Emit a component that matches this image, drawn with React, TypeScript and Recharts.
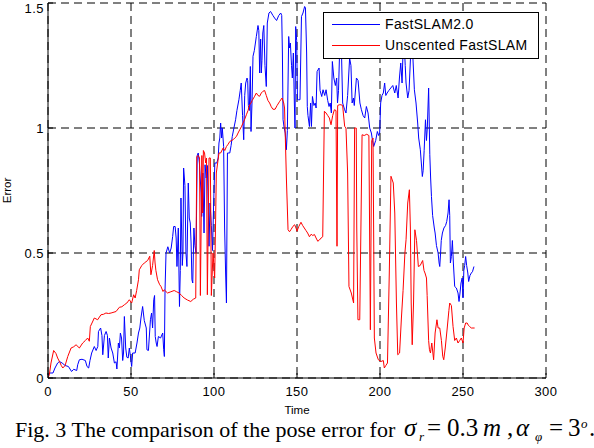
import {
  CartesianGrid,
  Label,
  Line,
  LineChart,
  XAxis,
  YAxis,
} from "recharts";

// FastSLAM2.0 (blue) — time and pose error
const fastTime = [
  0, 1, 3, 4.2, 5.8, 6.9, 8.5, 10.3, 12.3, 14.2, 15.5, 17.3, 17.9, 18.9, 20.5,
  22.5, 23.5, 24.5, 25.3, 26.3, 27.9, 29, 30, 30.4, 31.7, 32.5, 33, 34, 35,
  35.8, 36.3, 37, 38, 39, 40, 41, 41.5, 42.4, 43, 43.6, 44.3, 45, 45.5, 46,
  46.8, 47.5, 48.3, 49, 49.6, 50.4, 51, 52.5, 53.6, 54.5, 55.3, 56, 57, 58,
  59.2, 59.6, 60.5, 61.7, 62.4, 63, 63.7, 64.2, 64.6, 65.2, 65.7, 66.5, 67.8,
  69.1, 69.7, 70.1, 70.5, 71.1, 72.2, 73.3, 74.2, 75.1, 75.7, 76.6, 77.2, 77.7,
  78.5, 79.2, 79.7, 80.1, 80.9, 81.3, 81.7, 82.5, 83.1, 83.7, 84.5, 85.1, 85.7,
  86.2, 86.7, 87.2, 87.9, 88.5, 89.2, 89.9, 90.5, 91.2, 92.2, 92.6, 93.3, 94,
  94.6, 95.3, 96, 97, 97.6, 98.4, 99.1, 99.8, 100.5, 101.7, 102.5, 103, 103.5,
  104, 104.6, 105, 105.8, 106.4, 107, 107.5, 108.1, 109, 109.5, 110.3, 111,
  112, 113, 113.8, 115, 115.8, 116.4, 117.2, 117.9, 118.5, 119.1, 119.9, 120.3,
  120.7, 121.3, 121.9, 122.3, 122.9, 123.5, 124.3, 125.5, 126.5, 127, 127.5,
  128.1, 128.5, 128.9, 129.4, 130, 130.7, 131.5, 132.1, 133.1, 134.1, 135.5,
  136.5, 137.7, 139, 140.2, 140.8, 141.2, 141.6, 142.3, 142.9, 143.6, 144.2,
  145, 145.5, 146, 146.7, 147.2, 147.8, 148.4, 148.8, 149.2, 149.8, 150.3, 151,
  151.8, 152.7, 153.6, 154.6, 155.1, 155.8, 156.2, 156.6, 157.5, 158.2, 158.7,
  159.3, 160.2, 161, 161.5, 162.1, 163.3, 163.9, 164.9, 165.7, 166.7, 167.5,
  168.5, 169.3, 170, 170.7, 171.3, 172.2, 173.1, 173.9, 174.4, 175, 175.7,
  176.7, 177.5, 178.7, 179.5, 180.5, 181.7, 182.5, 183.2, 184, 184.5, 185.8,
  186.8, 187.9, 188.8, 189.8, 190.8, 191.8, 192.8, 193.8, 194.8, 195.5, 196.2,
  197.4, 198.4, 199.2, 199.8, 200.4, 201.2, 202, 202.8, 203.5, 204.3, 205.3,
  206.5, 207.7, 208.9, 209.8, 210.9, 211.7, 212.5, 213.3, 213.9, 214.5, 215.2,
  215.7, 216.7, 217.5, 218.5, 219.7, 220.7, 221.7, 222.7, 223.3, 224.3, 224.9,
  225.5, 226, 226.6, 227.4, 228, 228.5, 229.3, 230, 230.5, 231, 231.7, 232.7,
  233.2, 234, 235, 235.6, 236, 236.5, 236.9, 237.6, 238.5, 239.5, 240.2, 241,
  241.6, 242, 242.4, 243, 243.6, 244.2, 245, 246, 247, 247.6, 248.2, 248.8,
  249.5, 250, 250.5, 251, 251.6, 252.2, 252.9, 253.4, 254.2, 255, 255.7, 256.6,
];
const fastError = [
  0.01, 0.02, 0.02, 0.04, 0.06, 0.066, 0.06, 0.05, 0.046, 0.026, 0.035, 0.03,
  0.053, 0.073, 0.075, 0.07, 0.046, 0.04, 0.07, 0.1, 0.126, 0.11, 0.126, 0.186,
  0.2, 0.17, 0.093, 0.17, 0.186, 0.17, 0.08, 0.16, 0.12, 0.1, 0.06, 0.065,
  0.036, 0.14, 0.12, 0.18, 0.16, 0.07, 0.1, 0.246, 0.12, 0.083, 0.08, 0.12,
  0.09, 0.046, 0.1, 0.1, 0.14, 0.18, 0.2, 0.24, 0.286, 0.23, 0.2, 0.113, 0.11,
  0.233, 0.26, 0.2, 0.313, 0.33, 0.166, 0.14, 0.126, 0.166, 0.16, 0.18, 0.113,
  0.086, 0.35, 0.5, 0.525, 0.5, 0.52, 0.566, 0.606, 0.606, 0.56, 0.446, 0.6,
  0.286, 0.43, 0.72, 0.45, 0.5, 0.84, 0.77, 0.5, 0.446, 0.78, 0.64, 0.62, 0.54,
  0.393, 0.38, 0.6, 0.53, 0.5, 0.89, 0.9, 0.86, 0.74, 0.646, 0.82, 0.58, 0.853,
  0.8, 0.85, 0.527, 0.7, 0.61, 0.51, 0.7, 0.86, 0.86, 0.88, 0.94, 0.96, 1.02,
  0.96, 1.0, 0.926, 0.6, 0.42, 0.3, 0.9, 0.9, 0.9, 0.93, 0.966, 1.0, 1.033,
  1.07, 1.113, 1.15, 1.18, 1.05, 0.953, 1.13, 1.18, 1.2, 1.19, 1.09, 1.07,
  1.246, 0.986, 1.1, 1.287, 1.31, 1.366, 1.41, 1.39, 1.22, 1.356, 1.22, 1.27,
  1.38, 1.41, 1.25, 1.166, 1.42, 1.46, 1.466, 1.45, 1.44, 1.43, 1.45, 1.46,
  1.45, 1.3, 1.033, 1.0, 0.98, 0.913, 0.99, 1.366, 1.32, 1.34, 1.25, 1.2, 1.3,
  1.1, 1.0, 1.406, 1.35, 1.113, 1.113, 1.113, 1.446, 1.46, 1.486, 1.48, 1.3,
  1.086, 1.05, 1.006, 1.1, 1.006, 1.126, 1.09, 1.1, 1.08, 1.226, 1.24, 1.15,
  1.126, 1.153, 1.13, 1.153, 1.11, 1.086, 1.1, 1.06, 1.266, 1.2, 1.17, 1.2,
  1.1, 1.15, 1.313, 1.33, 1.1, 1.073, 1.06, 1.13, 1.28, 1.25, 1.1, 1.12, 1.09,
  1.2, 1.19, 1.1, 1.073, 1.05, 1.04, 1.086, 1.06, 1.0, 0.98, 0.95, 0.926, 0.95,
  0.986, 0.97, 0.98, 1.1, 1.13, 1.14, 1.18, 1.13, 1.14, 1.15, 1.16, 1.17, 1.14,
  1.17, 1.12, 1.2, 1.26, 1.18, 1.31, 1.35, 1.25, 1.18, 1.12, 1.15, 1.3, 1.3,
  1.153, 1.1, 1.02, 0.96, 0.913, 0.86, 0.806, 0.83, 0.91, 1.033, 0.95, 1.0,
  1.16, 0.893, 0.8, 0.726, 0.65, 0.6, 0.58, 0.53, 0.5, 0.46, 0.446, 0.5, 0.55,
  0.58, 0.6, 0.61, 0.626, 0.66, 0.713, 0.65, 0.46, 0.486, 0.55, 0.46, 0.366,
  0.36, 0.34, 0.306, 0.34, 0.38, 0.4, 0.32, 0.43, 0.45, 0.486, 0.45, 0.42,
  0.386, 0.41, 0.42, 0.425, 0.446,
];

// Unscented FastSLAM (red)
const ufsTime = [
  0, 0.8, 1.8, 3.4, 4.8, 5.8, 6.9, 8, 8.9, 10.3, 11.9, 13.9, 15.5, 16.9, 18.9,
  20.9, 22.5, 23.9, 24.9, 25.5, 26.5, 27.9, 29.9, 31.9, 33.5, 34.9, 36.5, 38,
  41, 43, 44.5, 46, 47.5, 49, 50.4, 51.6, 52.5, 53.4, 54.5, 55, 56.5, 58, 60,
  61.3, 62, 63, 64, 64.5, 65, 66, 67.3, 68, 69.3, 70, 72, 74, 76, 77.5, 79,
  80.5, 82, 84, 86, 87.5, 89, 89.6, 90.5, 91.3, 91.8, 92.7, 93.2, 93.6, 94.3,
  95, 95.5, 96, 97, 97.8, 98.4, 99.4, 100.4, 100.9, 101.4, 102.2, 103, 104,
  105.5, 106.5, 107.5, 108.5, 109.5, 110.5, 111.5, 112.5, 113.5, 114.5, 115.5,
  116.5, 117.5, 118.5, 119.5, 120.5, 121.5, 122.3, 123, 124.5, 125.5, 126.5,
  127.5, 128.5, 129.5, 130.5, 131.5, 132.5, 133.5, 134.5, 135.5, 136.8, 138,
  139.6, 141, 142, 142.5, 143.6, 144.6, 145.5, 146.5, 147.6, 148.6, 149.4, 150,
  151, 152.4, 153.4, 154.4, 155.4, 156.4, 157.5, 158.5, 159.5, 160.5, 161.5,
  162.5, 163.5, 164.5, 165.5, 166.5, 167.5, 168.5, 169.5, 170.5, 171.5, 172.5,
  173.5, 174.1, 174.5, 175.5, 176.5, 177.5, 178.7, 179.5, 180.5, 181.3, 182.7,
  184.1, 184.7, 185.7, 186, 186.7, 187.8, 188.5, 189.2, 190.5, 192, 193.3,
  194.2, 195, 195.8, 196.6, 197.6, 199, 200.6, 202, 202.6, 203.5, 204.5, 205.6,
  206.6, 208, 208.9, 209.9, 210.7, 211.8, 212.9, 213.9, 215, 215.7, 216.7,
  217.7, 218.3, 218.8, 219.4, 220.2, 221, 222, 223.1, 224.2, 225.7, 226.5,
  227.1, 228, 228.4, 229.3, 229.8, 230.4, 231.2, 232.3, 233.2, 234.3, 235, 236,
  237, 237.8, 238.4, 239.3, 240.5, 241.5, 242, 243, 244, 245, 246, 247, 248,
  249, 250, 250.7, 251.6, 252.5, 253.3, 254, 255, 256, 257,
];
const ufsError = [
  0.0, 0.013, 0.06, 0.11, 0.098, 0.08, 0.066, 0.05, 0.04, 0.05, 0.086, 0.12,
  0.125, 0.133, 0.12, 0.14, 0.15, 0.16, 0.147, 0.206, 0.22, 0.24, 0.233, 0.253,
  0.255, 0.26, 0.258, 0.26, 0.266, 0.283, 0.285, 0.293, 0.3, 0.313, 0.3, 0.333,
  0.32, 0.35, 0.393, 0.433, 0.45, 0.46, 0.47, 0.487, 0.413, 0.45, 0.51, 0.46,
  0.43, 0.393, 0.373, 0.367, 0.346, 0.353, 0.34, 0.345, 0.35, 0.345, 0.34, 0.33,
  0.32, 0.312, 0.306, 0.315, 0.32, 0.886, 0.89, 0.88, 0.33, 0.89, 0.66, 0.91,
  0.9, 0.86, 0.88, 0.333, 0.88, 0.88, 0.33, 0.5, 0.4, 0.6, 0.82, 0.86, 0.9, 0.9,
  0.92, 0.91, 0.926, 0.935, 0.946, 0.95, 0.953, 0.96, 0.966, 0.98, 0.993, 1.005,
  1.02, 1.035, 1.053, 1.07, 1.093, 1.1, 1.11, 1.127, 1.14, 1.13, 1.127, 1.14,
  1.147, 1.15, 1.13, 1.11, 1.1, 1.085, 1.075, 1.075, 1.09, 1.107, 1.12, 1.1,
  1.08, 0.8, 0.593, 0.585, 0.595, 0.607, 0.613, 0.6, 0.587, 0.605, 0.623, 0.61,
  0.6, 0.59, 0.58, 0.565, 0.575, 0.57, 0.574, 0.56, 0.547, 0.552, 0.56, 0.565,
  1.067, 1.06, 1.05, 1.04, 1.013, 1.05, 1.073, 1.07, 0.527, 1.09, 1.093, 1.093,
  1.09, 1.007, 1.0, 0.82, 0.366, 0.34, 0.3, 1.0, 1.0, 0.6, 0.233, 0.233, 0.6,
  0.973, 0.97, 0.975, 0.97, 0.193, 0.95, 0.96, 0.16, 0.1, 0.073, 0.066, 0.07,
  0.04, 0.05, 0.06, 0.42, 0.807, 0.78, 0.66, 0.3, 0.093, 0.1, 0.24, 0.35, 0.5,
  0.553, 0.7, 0.753, 0.6, 0.3, 0.133, 0.3, 0.593, 0.55, 0.446, 0.45, 0.47, 0.43,
  0.42, 0.4, 0.33, 0.15, 0.113, 0.1, 0.14, 0.073, 0.18, 0.233, 0.2, 0.2, 0.15,
  0.087, 0.073, 0.12, 0.2, 0.27, 0.3, 0.29, 0.206, 0.15, 0.16, 0.14, 0.15, 0.16,
  0.14, 0.2, 0.22, 0.22, 0.21, 0.206, 0.2, 0.2, 0.2,
];

const xTicks = [0, 50, 100, 150, 200, 250, 300];
const yTicks = [0, 0.5, 1, 1.5];

const fastData = fastTime.map((t, i) => ({ t, e: fastError[i] }));
const ufsData = ufsTime.map((t, i) => ({ t, e: ufsError[i] }));

const sans = "'Liberation Sans', Arial, sans-serif";
const serif = "'Liberation Serif', 'Times New Roman', serif";
const tickStyle = { fontSize: 13, fill: "#000", fontFamily: sans, letterSpacing: 0.5 };

function LegendBox() {
  const row = (color: string, label: string, top: number) => (
    <div style={{ position: "absolute", left: 8, top, display: "flex", alignItems: "center" }}>
      <span style={{ display: "inline-block", width: 48, height: 1, background: color }} />
      <span style={{ marginLeft: 5, fontSize: 14, letterSpacing: 0.35, lineHeight: "16px" }}>
        {label}
      </span>
    </div>
  );
  return (
    <div
      style={{
        position: "absolute",
        left: 323,
        top: 12,
        width: 214,
        height: 45,
        border: "1px solid #000",
        background: "#fff",
        fontFamily: sans,
        color: "#000",
      }}
    >
      {row("#0000ff", "FastSLAM2.0", 3)}
      {row("#ff0000", "Unscented FastSLAM", 24)}
    </div>
  );
}

// caption: plain text then the equation typeset piece by piece
function Caption() {
  const piece = (text: string, left: number, opts: { italic?: boolean; size?: number; top?: number } = {}) => (
    <span
      style={{
        position: "absolute",
        left,
        top: opts.top ?? 0,
        fontSize: opts.size ?? 25,
        fontStyle: opts.italic ? "italic" : "normal",
        lineHeight: "22px",
        whiteSpace: "pre",
      }}
    >
      {text}
    </span>
  );
  return (
    <div style={{ position: "absolute", left: 0, top: 417, width: 594, height: 30, fontFamily: serif, color: "#000" }}>
      <span style={{ position: "absolute", left: 15, top: 2, fontSize: 22, lineHeight: "22px", whiteSpace: "pre" }}>
        Fig. 3 The comparison of the pose error for
      </span>
      {piece("σ", 404, { italic: true })}
      {piece("r", 419, { italic: true, size: 13, top: 9 })}
      {piece("=", 427)}
      {piece("0.3", 447)}
      {piece("m", 483, { italic: true })}
      {piece(",", 507)}
      {piece("α", 516, { italic: true })}
      {piece("φ", 535, { italic: true, size: 13, top: 9 })}
      {piece("=", 549)}
      {piece("3", 568)}
      {piece("o", 581, { italic: true, size: 13, top: -4 })}
      {piece(".", 589)}
    </div>
  );
}

export default function App() {
  return (
    <div style={{ position: "absolute", left: 0, top: 0, width: 594, height: 448, background: "#fff" }}>
      <LineChart width={594} height={448} margin={{ top: 3, right: 48, bottom: 0, left: 0 }}>
        <CartesianGrid stroke="#000" strokeDasharray="8 5" />
        <XAxis
          dataKey="t"
          type="number"
          domain={[0, 300]}
          ticks={xTicks}
          height={70}
          tickSize={-5}
          tickMargin={14}
          stroke="#000"
          tick={tickStyle}
          allowDataOverflow
        >
          <Label value="Time" position="center" dy={-3} style={{ fontSize: 11.5, fill: "#000", fontFamily: sans }} />
        </XAxis>
        <XAxis
          xAxisId="top"
          orientation="top"
          type="number"
          domain={[0, 300]}
          ticks={xTicks}
          height={0}
          tickSize={-5}
          tickFormatter={() => ""}
          stroke="#000"
        />
        <YAxis
          type="number"
          domain={[0, 1.5]}
          ticks={yTicks}
          width={48}
          tickSize={-5}
          tickMargin={9}
          stroke="#000"
          tick={tickStyle}
          allowDataOverflow
        >
          <Label
            value="Error"
            position="center"
            angle={-90}
            dx={-17}
            style={{ fontSize: 11.5, fill: "#000", fontFamily: sans }}
          />
        </YAxis>
        <YAxis
          yAxisId="right"
          orientation="right"
          type="number"
          domain={[0, 1.5]}
          ticks={yTicks}
          width={0}
          tickSize={-5}
          tickFormatter={() => ""}
          stroke="#000"
        />
        <Line
          data={fastData}
          dataKey="e"
          type="linear"
          stroke="#0000ff"
          strokeWidth={1}
          dot={false}
          isAnimationActive={false}
        />
        <Line
          data={ufsData}
          dataKey="e"
          type="linear"
          stroke="#ff0000"
          strokeWidth={1}
          dot={false}
          isAnimationActive={false}
        />
      </LineChart>
      <LegendBox />
      <Caption />
    </div>
  );
}
